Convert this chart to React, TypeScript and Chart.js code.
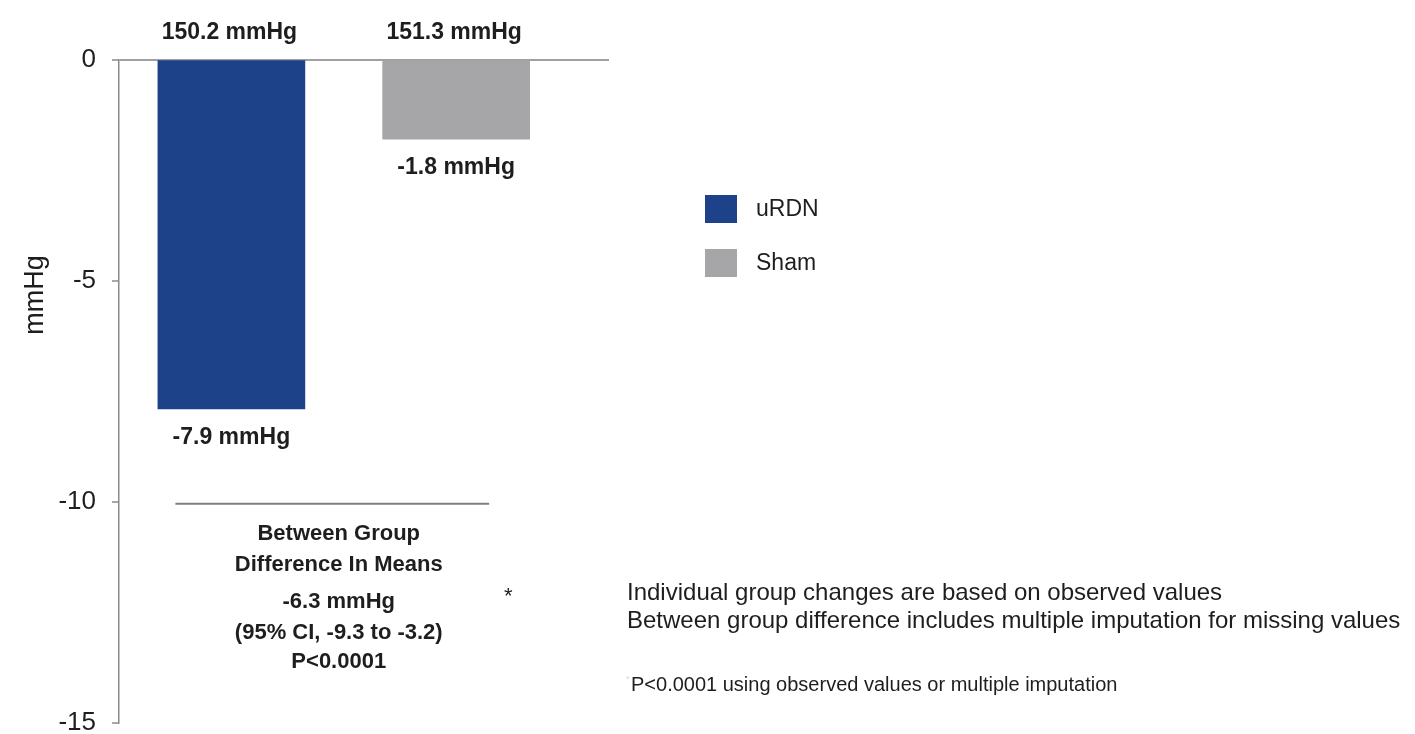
import React, { useEffect, useRef } from 'react';
import { Chart, registerables } from 'chart.js';

Chart.register(...registerables);

// ---- data ----
const groups = ['uRDN', 'Sham'];
const groupX = [0, 1];
const changes = [-7.9, -1.8];
const baselines = [150.2, 151.3];
const unit = 'mmHg';
const yTickValues = [0, -5, -10, -15];
const diffTitle = ['Between Group', 'Difference In Means'];
const diffLines = ['-6.3 mmHg', '(95% CI, -9.3 to -3.2)', 'P<0.0001'];
const diffLineValue = -10;
const footnotes = [
  'Individual group changes are based on observed values',
  'Between group difference includes multiple imputation for missing values',
];
const pNote = 'P<0.0001 using observed values or multiple imputation';
const colors = ['#1e4289', '#a6a6a8'];

const FONT = '"Liberation Sans", Arial, Helvetica, sans-serif';
const TEXT = '#1e1e1e';

const annotationPlugin = {
  id: 'annotations',
  afterDatasetsDraw(chart: any) {
    const ctx = chart.ctx;
    const area = chart.chartArea;
    const yScale = chart.scales.y;
    const bars = chart.data.datasets.map((_: any, i: number) => chart.getDatasetMeta(i).data[0]);
    ctx.save();
    ctx.fillStyle = TEXT;
    ctx.textBaseline = 'alphabetic';
    ctx.textAlign = 'center';

    // value labels
    ctx.font = `bold 23px ${FONT}`;
    bars.forEach((b: any, i: number) => {
      ctx.fillText(`${baselines[i].toFixed(1)} ${unit}`, b.x - 2, area.top - 21);
      ctx.fillText(`${changes[i].toFixed(1)} ${unit}`, b.x, b.y + 35);
    });

    // between group block
    const lineY = yScale.getPixelForValue(diffLineValue) + 2;
    const x0 = bars[0].x - 56;
    const x1 = bars[1].x + 33;
    ctx.strokeStyle = '#808080';
    ctx.lineWidth = 2;
    ctx.beginPath();
    ctx.moveTo(x0, lineY);
    ctx.lineTo(x1, lineY);
    ctx.stroke();

    const cx = (bars[0].x + bars[1].x) / 2 - 5;
    ctx.font = `bold 22px ${FONT}`;
    ctx.fillText(diffTitle[0], cx, lineY + 36);
    ctx.fillText(diffTitle[1], cx, lineY + 67);
    ctx.fillText(diffLines[0], cx, lineY + 104);
    ctx.fillText(diffLines[1], cx, lineY + 135);
    ctx.fillText(diffLines[2], cx, lineY + 164);

    // y axis title
    ctx.save();
    ctx.translate(36, 295);
    ctx.rotate(-Math.PI / 2);
    ctx.font = `27px ${FONT}`;
    ctx.textBaseline = 'middle';
    ctx.fillText(unit, 0, 0);
    ctx.restore();

    // legend
    ctx.textAlign = 'left';
    ctx.textBaseline = 'middle';
    ctx.font = `23px ${FONT}`;
    chart.data.datasets.forEach((d: any, i: number) => {
      const by = 195 + i * 54;
      ctx.fillStyle = d.backgroundColor;
      ctx.fillRect(705, by, 32, 28);
      ctx.fillStyle = TEXT;
      ctx.fillText(d.label, 756, by + 15);
    });

    // footnotes
    ctx.textBaseline = 'alphabetic';
    ctx.font = `22px ${FONT}`;
    ctx.fillText('*', 504, 603);
    ctx.font = `24px ${FONT}`;
    footnotes.forEach((t, i) => ctx.fillText(t, 627, 600 + i * 28));
    ctx.fillStyle = '#d8d8d8';
    ctx.font = `9px ${FONT}`;
    ctx.fillText('*', 626, 682);
    ctx.fillStyle = TEXT;
    ctx.font = `20px ${FONT}`;
    ctx.fillText(pNote, 631, 691);
    ctx.restore();
  },
};

export default function App() {
  const canvasRef = useRef<HTMLCanvasElement | null>(null);

  useEffect(() => {
    const canvas = canvasRef.current;
    if (!canvas) return;
    const chart = new Chart(canvas, {
      type: 'bar',
      data: {
        datasets: groups.map((g, i) => ({
          label: g,
          data: [{ x: groupX[i], y: changes[i] }],
          backgroundColor: colors[i],
          borderWidth: 0,
          barThickness: 147,
          grouped: false,
        })),
      },
      options: {
        animation: false,
        responsive: true,
        maintainAspectRatio: false,
        layout: { padding: { left: 0, top: 59.5, right: 806, bottom: 11 } },
        plugins: {
          legend: { display: false },
          tooltip: { enabled: false },
          title: { display: false },
        },
        scales: {
          x: {
            type: 'linear',
            min: -0.5,
            max: 1.68,
            offset: false,
            display: false,
          },
          y: {
            min: -15,
            max: 0,
            afterBuildTicks: (scale: any) => {
              scale.ticks = yTickValues.map((v) => ({ value: v }));
            },
            afterFit: (scale: any) => {
              scale.width = 119;
              scale.paddingTop = 0;
              scale.paddingBottom = 0;
            },
            border: { display: true, color: '#8a8a8a', width: 1.5 },
            grid: {
              drawOnChartArea: true,
              color: (c: any) => (c.tick && c.tick.value === 0 ? '#a0a0a0' : 'rgba(0,0,0,0)'),
              lineWidth: 2,
              tickColor: '#8a8a8a',
              tickLength: 7,
              tickWidth: 1.5,
            },
            ticks: {
              color: TEXT,
              padding: 16,
              font: { family: FONT, size: 26 },
              callback: (v: any) => String(v),
            },
          },
        },
      },
      plugins: [annotationPlugin],
    });
    return () => chart.destroy();
  }, []);

  return (
    <div style={{ position: 'fixed', left: 0, top: 0, width: 1415, height: 734, background: '#fff' }}>
      <canvas ref={canvasRef} />
    </div>
  );
}
